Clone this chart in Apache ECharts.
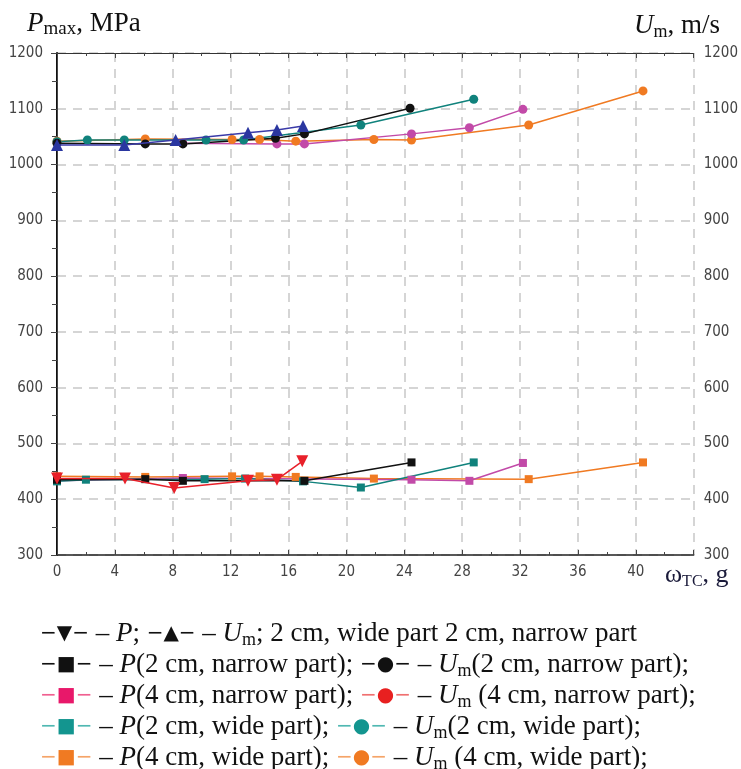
<!DOCTYPE html>
<html><head><meta charset="utf-8">
<script src="https://cdn.jsdelivr.net/npm/echarts@6/dist/echarts.min.js"></script>
<style>html,body{margin:0;padding:0;background:#fff}#c{width:741px;height:769px}</style>
</head><body><div id="c"></div><script>
// ---- data (x = ωтс, g ; y = value) ----
const xMin = 0, xMax = 44, xStep = 4;
const yMin = 300, yMax = 1200, yStep = 100;

const P_2cm_tri   = [[0,437],[4.7,437],[8.1,420],[13.2,433],[15.2,435],[16.95,468]];
const Um_2cm_tri  = [[0,1035],[4.65,1035],[8.2,1044],[13.2,1057],[15.2,1062],[17.0,1069]];
const P_2cm_narrow  = [[0,435],[6.1,436],[8.7,433],[17.1,433],[24.5,466]];
const Um_2cm_narrow = [[0,1038],[6.1,1037],[8.7,1037],[15.1,1047],[17.1,1055],[24.4,1101]];
const P_4cm_narrow  = [[0,433],[8.7,438],[24.5,435],[28.5,433],[32.2,465]];
const Um_4cm_narrow = [[8.7,1038],[15.2,1037],[17.1,1037],[24.5,1055],[28.5,1066],[32.2,1099]];
const P_2cm_wide  = [[0,432],[2.0,435],[10.2,436],[13.0,437],[17.0,432],[21.0,421],[28.8,466]];
const Um_2cm_wide = [[0,1041],[2.1,1044],[4.65,1044],[10.3,1044],[12.9,1044],[21.0,1071],[28.8,1117]];
const P_4cm_wide  = [[0,441],[6.1,440],[12.1,441],[14.0,441],[16.5,440],[21.9,437],[32.6,436],[40.5,466]];
const Um_4cm_wide = [[0,1042],[6.1,1046],[12.1,1045],[14.0,1045],[16.5,1042],[21.9,1045],[24.5,1044],[32.6,1071],[40.5,1132]];

const seriesNames = [
  'P; 2 cm', 'Um; 2 cm',
  'P(2 cm, narrow part)', 'Um(2 cm, narrow part)',
  'P(4 cm, narrow part)', 'Um (4 cm, narrow part)',
  'P(2 cm, wide part)', 'Um(2 cm, wide part)',
  'P(4 cm, wide part)', 'Um (4 cm, wide part)'
];

const labelFont = '"Liberation Sans Narrow","DejaVu Sans Condensed","Liberation Sans",sans-serif';
const serif = '"Liberation Serif","DejaVu Serif",serif';
const symFont = '"DejaVu Sans",sans-serif';

function mk(name, data, color, symbol, yIdx, opts) {
  opts = opts || {};
  return {
    name, type: 'line', data, xAxisIndex: 0, yAxisIndex: yIdx,
    symbol, symbolSize: opts.size || 8, symbolRotate: opts.rot || 0,
    showAllSymbol: true,
    lineStyle: { color: opts.lineColor || color, width: 1.5 },
    itemStyle: { color: color },
    z: opts.z || 2, animation: false, silent: true
  };
}

const series = [
  mk(seriesNames[8], P_4cm_wide, '#f07a22', 'rect', 0),
  mk(seriesNames[9], Um_4cm_wide, '#f07a22', 'circle', 1, {size: 9}),
  mk(seriesNames[4], P_4cm_narrow, '#c24aa8', 'rect', 0),
  mk(seriesNames[5], Um_4cm_narrow, '#c24aa8', 'circle', 1, {size: 9}),
  mk(seriesNames[6], P_2cm_wide, '#10827c', 'rect', 0),
  mk(seriesNames[7], Um_2cm_wide, '#10827c', 'circle', 1, {size: 9}),
  mk(seriesNames[2], P_2cm_narrow, '#111111', 'rect', 0),
  mk(seriesNames[3], Um_2cm_narrow, '#111111', 'circle', 1, {size: 9}),
  mk(seriesNames[0], P_2cm_tri, '#e8202a', 'triangle', 0, {rot: 180, size: 12, z: 3}),
  mk(seriesNames[1], Um_2cm_tri, '#2a36a0', 'triangle', 1, {size: 12, z: 3, lineColor: '#3a3aa8'})
];

const gridLine = { show: true, lineStyle: { color: '#c8c8c8', width: 1.5, type: [9, 7] } };

const LH = 31;
function tx(fs, extra) {
  return Object.assign({ fontFamily: serif, fontSize: fs, fill: '#111', lineHeight: LH, verticalAlign: 'middle' }, extra || {});
}
function sy(color, fs) {
  return { fontFamily: symFont, fontSize: fs || 20, fill: color, lineHeight: LH, verticalAlign: 'middle' };
}
const baseRich = {
  n: tx(27),
  i: tx(27, { fontStyle: 'italic' }),
  sub: tx(18, { lineHeight: 19, verticalAlign: 'bottom' }),
  sup: tx(19, { lineHeight: 25, verticalAlign: 'bottom' }),
  k: sy('#111'), kd: sy('#111'),
  pk: sy('#e8186a'), pkd: sy('#f06090'),
  rd: sy('#e82020'), rdd: sy('#f07070'),
  tl: sy('#13958f'), tld: sy('#50b8b2'),
  or: sy('#f07a22'), ord: sy('#f5a468')
};

function um() { return '{i|U}{sub|m}'; }
function sym(glyph, c, dc) { return '{' + (dc || c + 'd') + '|−}{' + c + '|' + glyph + '}{' + (dc || c + 'd') + '|−}'; }

const legendLines = [
  sym('▼', 'k') + '{n| – }{i|P}{n|; }' + sym('▲', 'k') + '{n| – }' + um() + '{n|; 2 cm, wide part 2 cm, narrow part}',
  sym('■', 'k') + '{n| – }{i|P}{n|(2 cm, narrow part); }' + sym('●', 'k') + '{n| – }' + um() + '{n|(2 cm, narrow part);}',
  sym('■', 'pk') + '{n| – }{i|P}{n|(4 cm, narrow part); }' + sym('●', 'rd') + '{n| – }' + um() + '{n| (4 cm, narrow part);}',
  sym('■', 'tl') + '{n| – }{i|P}{n|(2 cm, wide part); }' + sym('●', 'tl') + '{n| – }' + um() + '{n|(2 cm, wide part);}',
  sym('■', 'or') + '{n| – }{i|P}{n|(4 cm, wide part); }' + sym('●', 'or') + '{n| – }' + um() + '{n| (4 cm, wide part);}'
];

const graphics = [
  { type: 'text', left: 27, top: 10, style: { text: '{i|P}{sup|max}{n|, MPa}', rich: baseRich } },
  { type: 'text', right: 21, top: 12, style: { text: um() + '{n|, m/s}', rich: baseRich } },
  { type: 'text', left: 665, top: 562, style: { text: '{w|ω}{tc|TC}{w|, g}', rich: {
      w: { fontFamily: serif, fontSize: 26, fill: '#1a1a3a', lineHeight: 30, verticalAlign: 'middle' },
      tc: { fontFamily: serif, fontSize: 16, fill: '#1a1a3a', lineHeight: 24, verticalAlign: 'bottom' }
  } } }
];
legendLines.forEach((t, idx) => {
  graphics.push({ type: 'text', left: 40, top: 620 + idx * 31, style: { text: t, rich: baseRich } });
});

const chart = echarts.init(document.getElementById('c'), null, { renderer: 'canvas' });
chart.setOption({
  animation: false,
  backgroundColor: '#fff',
  grid: { left: 57, right: 43, top: 53, bottom: 214 },
  xAxis: [
    { type: 'value', min: xMin, max: xMax, interval: xStep, position: 'bottom',
      axisLine: { lineStyle: { color: '#222', width: 1.5 } },
      axisTick: { inside: true, length: 5, lineStyle: { color: '#444' } },
      minorTick: { show: true, splitNumber: 2, length: 3, lineStyle: { color: '#444' } },
      axisLabel: { fontFamily: labelFont, fontSize: 15, color: '#444', margin: 10,
        formatter: v => (v === xMax ? '' : String(v)) },
      splitLine: gridLine, minorSplitLine: { show: false } },
    { type: 'value', min: xMin, max: xMax, interval: xStep, position: 'top',
      axisLine: { lineStyle: { color: '#333', width: 1 } },
      axisTick: { inside: true, length: 5, lineStyle: { color: '#444' } },
      minorTick: { show: true, splitNumber: 2, length: 3, lineStyle: { color: '#444' } },
      axisLabel: { show: false }, splitLine: { show: false } }
  ],
  yAxis: [
    { type: 'value', min: yMin, max: yMax, interval: yStep, position: 'left',
      axisLine: { show: true, lineStyle: { color: '#111', width: 2 } },
      axisTick: { show: false }, minorTick: { show: false },
      axisLabel: { fontFamily: labelFont, fontSize: 15, color: '#444', margin: 14, formatter: v => String(v) },
      splitLine: gridLine },
    { type: 'value', min: yMin, max: yMax, interval: yStep, position: 'right',
      axisLine: { show: true, lineStyle: { color: '#444', width: 1 } },
      axisTick: { show: true, inside: true, length: 6, lineStyle: { color: '#444' } },
      minorTick: { show: true, splitNumber: 2, length: 5, lineStyle: { color: '#444' } },
      axisLabel: { fontFamily: labelFont, fontSize: 15, color: '#444', margin: 10, formatter: v => String(v) },
      splitLine: { show: false } }
  ],
  series: series,
  graphic: graphics
});
</script></body></html>
